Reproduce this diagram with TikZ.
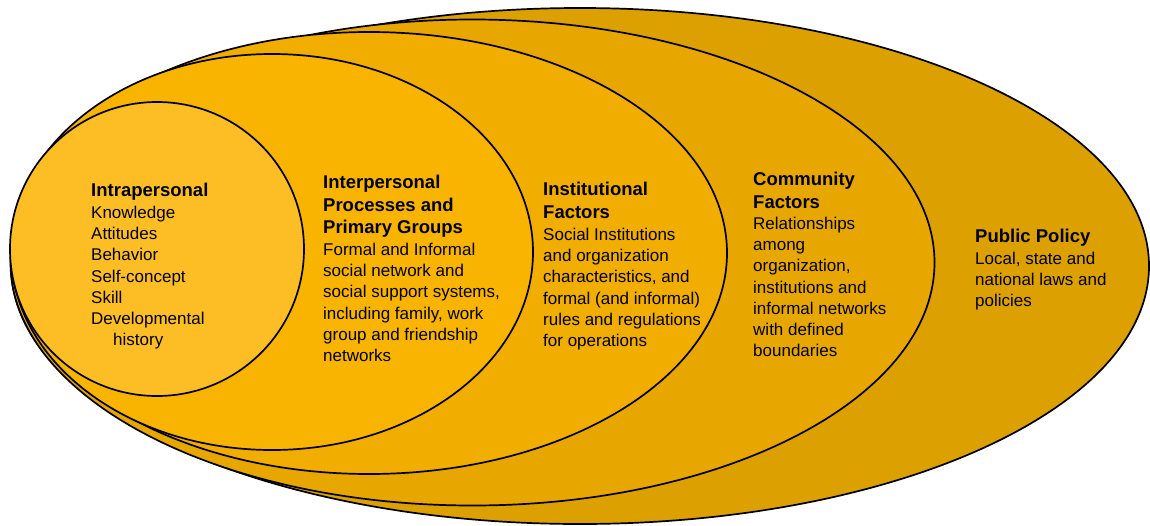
\documentclass[tikz,border=0pt]{standalone}
\usepackage{fontspec}
\setmainfont{Liberation Sans}
\definecolor{cA}{HTML}{FCBE24}
\definecolor{cB}{HTML}{F8B400}
\definecolor{cC}{HTML}{F1AD00}
\definecolor{cD}{HTML}{E8A700}
\definecolor{cE}{HTML}{DCA000}
\tikzset{
  ring/.style={draw=black, line width=1.7pt},
  ttl/.style={anchor=base west, align=left, inner sep=0pt, font=\fontsize{18.5}{22.5}\selectfont\bfseries},
  txt/.style={anchor=base west, align=left, inner sep=0pt, font=\fontsize{17}{21.2}\selectfont},
}
\begin{document}
\begin{tikzpicture}[x=1pt,y=-1pt]
\useasboundingbox (0,0) rectangle (1150,525);
\fill[white] (0,0) rectangle (1150,525);
\begin{scope}
\clip (0,0) rectangle (1150,525);
\path[ring, fill=cE] (580,266) ellipse [x radius=569pt, y radius=258pt];
\path[ring, fill=cD] (472.5,262.5) ellipse [x radius=462pt, y radius=243pt];
\path[ring, fill=cC] (369,253) ellipse [x radius=358pt, y radius=221pt];
\path[ring, fill=cB] (272,252) ellipse [x radius=261pt, y radius=198pt];
\path[ring, fill=cA] (157,249) circle [radius=147pt];
\end{scope}
% texts (base anchor = baseline of the last line)
\node[ttl] (t1) at (91,196.5) {Intrapersonal};
\node[txt] (b1) at (91,345.7) {Knowledge\\Attitudes\\Behavior\\Self-concept\\Skill\\Developmental\\\hspace*{22pt}history};
\node[ttl] (t2) at (323,233.5) {Interpersonal\\Processes and\\Primary Groups};
\node[txt] (b2) at (323,361.5) {Formal and Informal\\social network and\\social support systems,\\including family, work\\group and friendship\\networks};
\node[ttl] (t3) at (543,218) {Institutional\\Factors};
\node[txt] (b3) at (543,346.5) {Social Institutions\\and organization\\characteristics, and\\formal (and informal)\\rules and regulations\\for operations};
\node[ttl] (t4) at (753,208) {Community\\Factors};
\node[txt] (b4) at (753,356.7) {Relationships\\among\\organization,\\institutions and\\informal networks\\with defined\\boundaries};
\node[ttl] (t5) at (975,242.5) {Public Policy};
\node[txt] (b5) at (975,306.9) {Local, state and\\national laws and\\policies};
\end{tikzpicture}
\end{document}
